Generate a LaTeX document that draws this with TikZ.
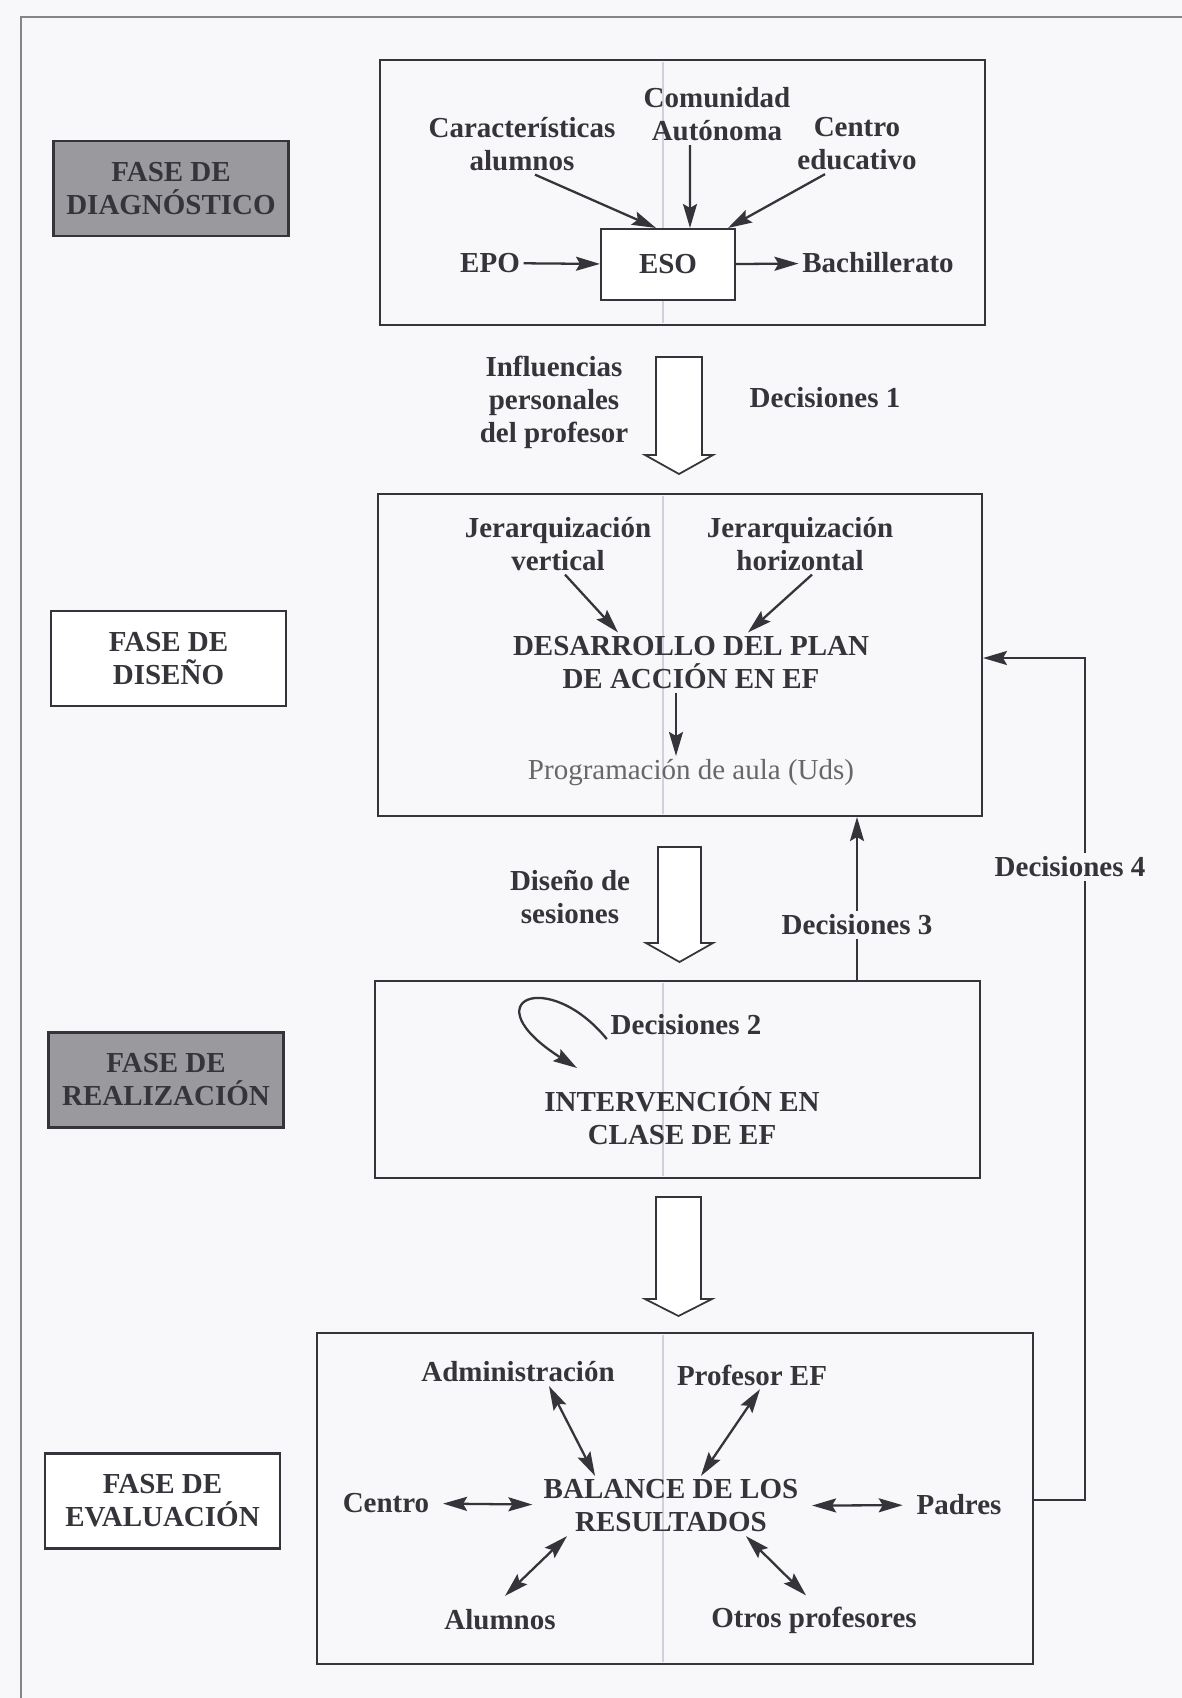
\documentclass[tikz,border=0pt]{standalone}
\usepackage{fontspec}
\setmainfont{Liberation Serif}
\usetikzlibrary{arrows.meta}

\definecolor{paper}{RGB}{248,248,250}
\definecolor{ink}{RGB}{52,52,58}
\definecolor{phasegray}{RGB}{154,154,158}
\definecolor{crease}{RGB}{208,208,222}

\newcommand\figfont{\fontsize{16.5}{18.8}\selectfont\bfseries}

\tikzset{
  panel/.style={draw=ink, line width=1.2pt},
  phasebox/.style={draw=ink, line width=1.2pt, fill=white, minimum width=4.7cm, minimum height=1.9cm, align=center},
  txt/.style={align=center, inner sep=2pt},
  hollow/.style={draw=ink, line width=1pt, fill=white},
  link/.style={draw=ink, line width=1.3pt}
}

\begin{document}
\begin{tikzpicture}[x=0.02cm, y=-0.02cm, >={Stealth[length=0.48cm,width=0.28cm,inset=0.08cm]}, font=\figfont, text=ink]

    \useasboundingbox[fill=paper] (0,0) rectangle (1182,1698);

    % Frame
    \draw[ink!60, line width=0.8pt] (1182,17) -- (21,17) -- (21,1698);

    % Phases
    \node[phasebox, fill=phasegray] (fdiag) at (171,188.5) {FASE DE\\DIAGNÓSTICO};
    \node[phasebox] (fdis) at (168.5,658.5) {FASE DE\\DISEÑO};
    \node[phasebox, fill=phasegray] (freal) at (166,1080) {FASE DE\\REALIZACIÓN};
    \node[phasebox] (feval) at (162.5,1501) {FASE DE\\EVALUACIÓN};

    % Creases
    \draw[crease, line width=1pt] (663,62) -- (663,323);
    \draw[crease, line width=1pt] (663,496) -- (663,814);
    \draw[crease, line width=1pt] (663,983) -- (663,1176);
    \draw[crease, line width=1pt] (663,1335) -- (663,1662);

    % Panels
    \node[panel, minimum width=12.1cm, minimum height=5.3cm] (diag) at (682.5,192.5) {};
    \node[panel, minimum width=12.08cm, minimum height=6.44cm] (design) at (680,655) {};
    \node[panel, minimum width=12.1cm, minimum height=3.94cm] (real) at (677.5,1079.5) {};
    \node[panel, minimum width=14.32cm, minimum height=6.62cm] (eval) at (675,1498.5) {};

    % Diagnosis
    \node[panel, fill=white, minimum width=2.68cm, minimum height=1.42cm] (eso) at (668,264.5) {ESO};
    \node[txt] (carac) at (522,144) {Características\\alumnos};
    \node[txt] (comun) at (717,114.5) {Comunidad\\Autónoma};
    \node[txt] (centroed) at (857,144) {Centro\\educativo};
    \node[txt] (epo) at (490,263) {EPO};
    \node[txt] (bach) at (878,263) {Bachillerato};
    \draw[link, ->] ([xshift=0.26cm]carac.south) -- ([xshift=-0.24cm]eso.north);
    \draw[link, ->] ([xshift=-0.54cm]comun.south) -- ([xshift=0.44cm]eso.north);
    \draw[link, ->] ([xshift=-0.64cm]centroed.south) -- ([xshift=-0.16cm]eso.north east);
    \draw[link, ->] (epo) -- (eso);
    \draw[link, ->] (eso) -- (bach);

    % Hollow arrows
    \draw[hollow] (656,357) -- (702,357) -- (702,455) -- (713,455) -- (679,474) -- (645,455) -- (656,455) -- cycle;
    \draw[hollow] (658,847) -- (701,847) -- (701,943) -- (713,943) -- (679.5,962) -- (646,943) -- (658,943) -- cycle;
    \draw[hollow] (656,1197) -- (701,1197) -- (701,1299) -- (712,1299) -- (678.5,1316) -- (645,1299) -- (656,1299) -- cycle;

    \node[txt] (infl) at (554,402) {Influencias\\personales\\del profesor};
    \node[txt] (dec1) at (825,398) {Decisiones 1};
    \node[txt] (dis) at (570,897.5) {Diseño de\\sesiones};

    % Design
    \node[txt] (jv) at (558,544) {Jerarquización\\vertical};
    \node[txt] (jh) at (800,544) {Jerarquización\\horizontal};
    \node[txt] (plan) at (691,662.5) {DESARROLLO DEL PLAN\\DE ACCIÓN EN EF};
    \node[txt, font=\fontsize{16.5}{18.8}\selectfont\mdseries, text=ink!75] (prog) at (691,773) {Programación de aula (Uds)};
    \draw[link, ->] ([xshift=0.14cm]jv.south) -- ([xshift=-1.46cm]plan.north);
    \draw[link, ->] ([xshift=0.24cm]jh.south) -- ([xshift=1.14cm]plan.north);
    \draw[link, ->] ([xshift=-0.3cm]plan.south) -- ([xshift=-0.3cm]prog.north);

    % Decisions 3 and 4
    \node[txt] (dec3) at (857,925) {Decisiones 3};
    \draw[link] (real.north -| dec3) -- (dec3);
    \draw[link, ->] (dec3) -- (design.south -| dec3);

    \node[txt] (dec4) at (1070,867) {Decisiones 4};
    \coordinate (c4a) at (1085,1500);
    \coordinate (c4b) at (1085,658);
    \draw[link] (eval.east |- c4a) -- (c4a) -- (dec4.south -| c4a);
    \draw[link, ->] (dec4.north -| c4a) -- (c4b) -- (design.east |- c4b);

    % Realization
    \node[txt] (dec2) at (686,1025) {Decisiones 2};
    \node[txt] (interv) at (682,1115.5) {INTERVENCIÓN EN\\CLASE DE EF};
    \coordinate (loopend) at (577,1068);
    \draw[link, ->] (dec2.south west) .. controls +(-59,-72) and +(-107,-68) .. (loopend);

    % Evaluation
    \node[txt] (balance) at (671,1506) {BALANCE DE LOS\\RESULTADOS};
    \node[txt] (adm) at (518,1372) {Administración};
    \node[txt] (prof) at (752,1375) {Profesor EF};
    \node[txt] (centro) at (386,1503) {Centro};
    \node[txt] (padres) at (959,1505) {Padres};
    \node[txt] (alum) at (500,1620) {Alumnos};
    \node[txt] (otros) at (814,1620) {Otros profesores};
    \draw[link, <->] ([xshift=0.62cm]adm.south) -- ([xshift=-1.52cm]balance.north);
    \draw[link, <->] ([xshift=0.16cm]prof.south) -- ([xshift=0.6cm]balance.north);
    \draw[link, <->, shorten <=0.2cm, shorten >=0.15cm] (centro) -- (balance);
    \draw[link, <->, shorten <=0.2cm, shorten >=0.2cm] (balance) -- (padres);
    \draw[link, <->] ([xshift=0.1cm,yshift=0.2cm]alum.north) -- ([xshift=-2.08cm]balance.south);
    \draw[link, <->] ([xshift=1.5cm]balance.south) -- ([xshift=-0.16cm,yshift=0.15cm]otros.north);

    \end{tikzpicture}
\end{document}
